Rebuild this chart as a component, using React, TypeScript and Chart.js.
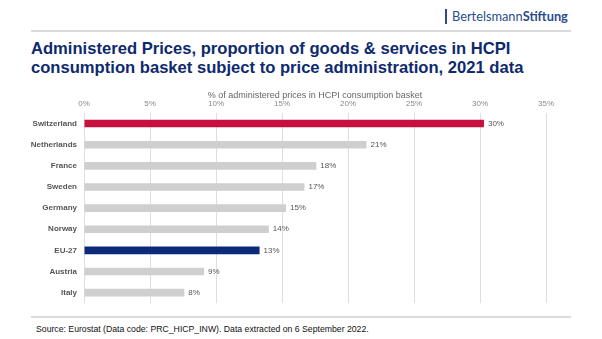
import React, { useEffect, useRef } from "react";
import { Chart, registerables } from "chart.js";

Chart.register(...registerables);

const countries = ["Switzerland", "Netherlands", "France", "Sweden", "Germany", "Norway", "EU-27", "Austria", "Italy"];
const shares = [30.3, 21.4, 17.6, 16.7, 15.3, 14.0, 13.3, 9.1, 7.6];
const barColors = ["#c8103e", "#cfcfcf", "#cfcfcf", "#cfcfcf", "#cfcfcf", "#cfcfcf", "#0d2a7a", "#cfcfcf", "#cfcfcf"];
const xTicks = [0, 5, 10, 15, 20, 25, 30, 35];

const valueLabels = {
  id: "valueLabels",
  afterDatasetsDraw(chart: any) {
    const ctx = chart.ctx;
    const meta = chart.getDatasetMeta(0);
    ctx.save();
    ctx.font = "8px 'Liberation Sans', Arial, sans-serif";
    ctx.fillStyle = "#555";
    ctx.textAlign = "left";
    ctx.textBaseline = "middle";
    meta.data.forEach((bar: any, i: number) => {
      ctx.fillText(Math.round(shares[i]) + "%", bar.x + 4, bar.y);
    });
    ctx.restore();
  },
};

export default function App() {
  const ref = useRef<HTMLCanvasElement | null>(null);
  useEffect(() => {
    if (!ref.current) return;
    const chart = new Chart(ref.current, {
      type: "bar",
      data: {
        labels: countries,
        datasets: [
          {
            data: shares,
            backgroundColor: barColors,
            categoryPercentage: 1,
            barPercentage: 0.36,
          },
        ],
      },
      options: {
        indexAxis: "y",
        animation: false,
        responsive: false,
        maintainAspectRatio: false,
        layout: { padding: { left: 0, right: 56, top: 0, bottom: 0 } },
        plugins: { legend: { display: false }, tooltip: { enabled: false } },
        scales: {
          x: {
            position: "top",
            min: 0,
            max: 35,
            afterBuildTicks: (s: any) => {
              s.ticks = xTicks.map((v) => ({ value: v }));
            },
            afterFit: (s: any) => {
              s.height = 28;
            },
            ticks: {
              padding: 4,
              color: "#888",
              font: { family: "'Liberation Sans', Arial, sans-serif", size: 8 },
              callback: (v: any) => v + "%",
            },
            grid: { color: "#dedede", drawTicks: false },
            border: { display: false },
            title: {
              display: true,
              text: "% of administered prices in HCPI consumption basket",
              color: "#666",
              font: { family: "'Liberation Sans', Arial, sans-serif", size: 9 },
              padding: { top: 5, bottom: 0 },
            },
          },
          y: {
            afterFit: (s: any) => {
              s.width = 84;
            },
            ticks: {
              padding: 7,
              color: "#555",
              font: { family: "'Liberation Sans', Arial, sans-serif", size: 8, weight: "bold" },
            },
            grid: { display: false, drawTicks: false },
            border: { display: false },
          },
        },
      },
      plugins: [valueLabels],
    });
    return () => chart.destroy();
  }, []);

  const font = "'Liberation Sans', Arial, sans-serif";
  return (
    <div style={{ position: "fixed", left: 0, top: 0, width: 602, height: 339, background: "#fff", overflow: "hidden" }}>
      <div style={{ position: "absolute", left: 445, top: 9, width: 1.5, height: 15, background: "#2b4c8c" }} />
      <div style={{ position: "absolute", left: 452, top: 8, fontFamily: "Lato, 'Open Sans', sans-serif", fontSize: 12.8, lineHeight: "16px", color: "#2b4c8c", whiteSpace: "nowrap" }}>
        Bertelsmann<b>Stiftung</b>
      </div>
      <div style={{ position: "absolute", left: 31, top: 30, width: 540, height: 1.5, background: "#dadada" }} />
      <div style={{ position: "absolute", left: 31, top: 39, fontFamily: font, fontWeight: "bold", fontSize: 16.6, lineHeight: "19px", color: "#0e2a6e", whiteSpace: "nowrap" }}>
        Administered Prices, proportion of goods &amp; services in HCPI
        <br />
        consumption basket subject to price administration, 2021 data
      </div>
      <canvas ref={ref} width={602} height={230} style={{ position: "absolute", left: 0, top: 85, width: 602, height: 230 }} />
      <div style={{ position: "absolute", left: 31, top: 316, width: 540, height: 2, background: "#dadada" }} />
      <div style={{ position: "absolute", left: 36, top: 323, fontFamily: font, fontSize: 8.7, lineHeight: "12px", color: "#111", whiteSpace: "nowrap" }}>
        Source: Eurostat (Data code: PRC_HICP_INW). Data extracted on 6 September 2022.
      </div>
    </div>
  );
}
